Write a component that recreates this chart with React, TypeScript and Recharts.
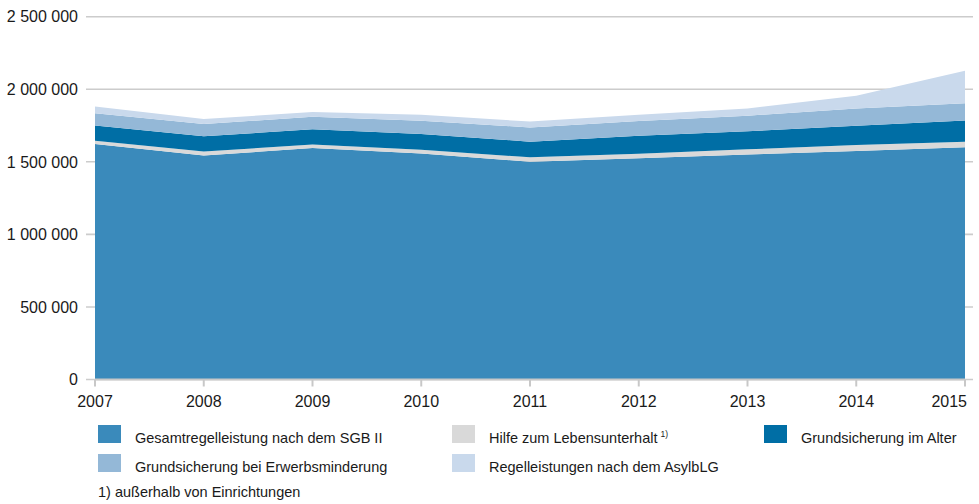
import React from "react";
import { AreaChart, Area, XAxis, YAxis, CartesianGrid, ReferenceLine } from "recharts";

const years = [2007, 2008, 2009, 2010, 2011, 2012, 2013, 2014, 2015];
const sgb2 = [1623000, 1543000, 1596000, 1558000, 1501000, 1525000, 1550000, 1575000, 1600000];
const hlu = [23000, 27500, 23000, 25000, 30000, 30000, 36000, 41000, 39000];
const alter = [105000, 105000, 105000, 108000, 108000, 125000, 124000, 133000, 145000];
const erwerb = [83000, 85000, 87000, 92000, 98000, 102000, 108000, 119000, 119000];
const asyl = [48000, 34000, 32000, 41000, 41000, 43000, 50000, 87000, 225000];
const yTicks = [0, 500000, 1000000, 1500000, 2000000, 2500000];

const seriesNames = [
  "Gesamtregelleistung nach dem SGB II",
  "Hilfe zum Lebensunterhalt",
  "Grundsicherung im Alter",
  "Grundsicherung bei Erwerbsminderung",
  "Regelleistungen nach dem AsylbLG",
];
const footnote = "1) außerhalb von Einrichtungen";

const colors = ["#3a8abb", "#d9d9d9", "#006ea5", "#94b8d7", "#c9d9ec"];

const data = years.map((y, i) => ({
  year: y,
  sgb2: sgb2[i],
  hlu: hlu[i],
  alter: alter[i],
  erwerb: erwerb[i],
  asyl: asyl[i],
}));

const keys = ["sgb2", "hlu", "alter", "erwerb", "asyl"];

const fmt = (v: number) => String(v).replace(/\B(?=(\d{3})+(?!\d))/g, " ");

const FONT = "'Liberation Sans', Arial, sans-serif";

const legendItems = [
  { idx: 0, x: 98, row: 0 },
  { idx: 1, x: 452, row: 0, sup: true },
  { idx: 2, x: 764, row: 0 },
  { idx: 3, x: 98, row: 1 },
  { idx: 4, x: 452, row: 1 },
];

const YearTick = (props: any) => {
  const { x, y, payload, index } = props;
  const last = index === years.length - 1;
  return (
    <text
      x={last ? x + 2 : x}
      y={y}
      dy="0.71em"
      textAnchor={last ? "end" : "middle"}
      fill="#1a1a1a"
      fontSize={16}
      fontFamily={FONT}
    >
      {payload.value}
    </text>
  );
};

export default function App() {
  return (
    <div style={{ position: "absolute", left: 0, top: 0, width: 979, height: 504, background: "#fff" }}>
      <AreaChart
        width={979}
        height={420}
        data={data}
        margin={{ top: 16.7, right: 6, bottom: 0, left: 0 }}
      >
        <CartesianGrid vertical={false} stroke="#cccccc" strokeWidth={1.6} />
        <XAxis
          dataKey="year"
          type="number"
          domain={[2007, 2015]}
          ticks={years}
          padding={{ left: 9, right: 8 }}
          axisLine={false}
          tickLine={{ stroke: "#c8c8c8", strokeWidth: 2 }}
          tickSize={7}
          tickMargin={9}
          height={40.5}
          tick={<YearTick />}
          interval={0}
        />
        <YAxis
          domain={[0, 2500000]}
          ticks={yTicks}
          width={86}
          axisLine={false}
          tickLine={false}
          tickFormatter={fmt}
          tick={{ fill: "#1a1a1a", fontSize: 16, fontFamily: FONT }}
        />
        {keys.map((k, i) => (
          <Area
            key={k}
            dataKey={k}
            stackId="1"
            type="linear"
            stroke="none"
            fill={colors[i]}
            fillOpacity={1}
            isAnimationActive={false}
          />
        ))}
        <ReferenceLine
          segment={[{ x: 2007, y: 0 }, { x: 2015, y: 0 }]}
          stroke="#c8c8c8"
          strokeWidth={2}
        />
      </AreaChart>
      <svg
        width={979}
        height={94}
        style={{ position: "absolute", left: 0, top: 410 }}
        fontFamily={FONT}
      >
        {legendItems.map((it) => {
          const sy = 15 + it.row * 29;
          return (
            <g key={it.idx}>
              <rect x={it.x} y={sy} width={23} height={18} fill={colors[it.idx]} />
              <text x={it.x + 37} y={sy + 18} fontSize={14.5} fill="#1a1a1a">
                {seriesNames[it.idx]}
                {it.sup ? (
                  <tspan fontSize={8.5} dx={3} dy={-6}>
                    1)
                  </tspan>
                ) : null}
              </text>
            </g>
          );
        })}
        <text x={98} y={87} fontSize={14.5} fill="#1a1a1a">
          {footnote}
        </text>
      </svg>
    </div>
  );
}
